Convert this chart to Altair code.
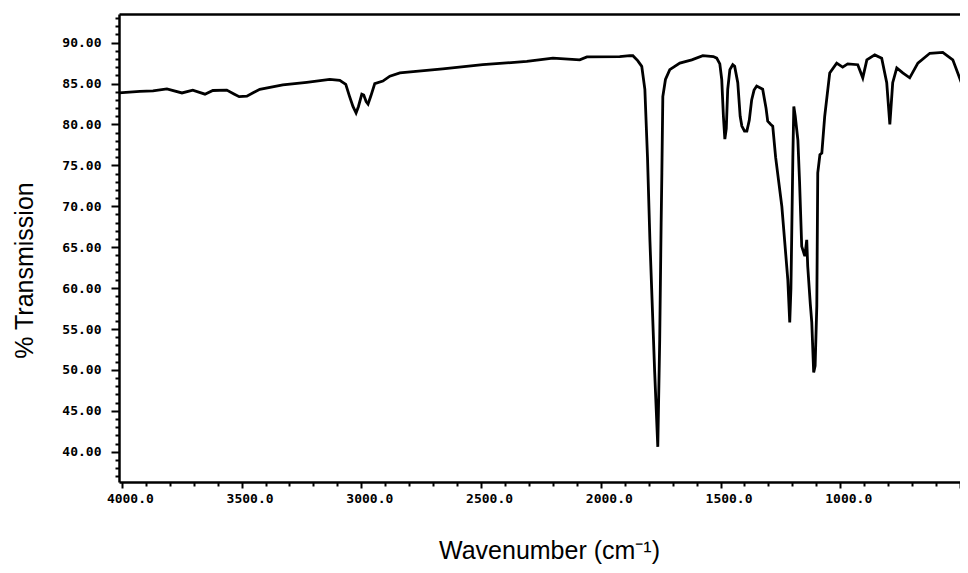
import altair as alt
import pandas as pd

# IR spectrum (wavenumber in cm-1, % transmission)
wavenumber = [
    4015, 3925, 3870, 3812, 3749, 3704, 3653, 3620, 3562, 3530, 3510, 3478, 3450, 3424,
    3328, 3228, 3132, 3090, 3065, 3050, 3035, 3022, 3012, 2998, 2990, 2980, 2972, 2960,
    2944, 2910, 2881, 2839, 2806, 2660, 2493, 2309, 2200, 2088, 2058, 1921, 1879, 1866,
    1846, 1829, 1816, 1805, 1795, 1775, 1762, 1754, 1748, 1745, 1741, 1730, 1712, 1670,
    1620, 1574, 1530, 1516, 1503, 1495, 1488, 1482, 1476, 1470, 1461, 1449, 1441, 1428,
    1418, 1411, 1400, 1390, 1380, 1370, 1360, 1349, 1324, 1310, 1303, 1290, 1282, 1270,
    1244, 1219, 1211, 1206, 1203, 1198, 1194, 1188, 1177, 1170, 1161, 1148, 1140, 1136,
    1125, 1119, 1111, 1105, 1098, 1094, 1085, 1077, 1065, 1044, 1015, 990, 969, 927,
    906, 889, 856, 827, 806, 793, 781, 764, 739, 710, 676, 626, 572, 530, 489, 468,
]
transmission = [
    83.85, 84.05, 84.1, 84.35, 83.85, 84.2, 83.7, 84.15, 84.2, 83.7, 83.4, 83.45, 83.9, 84.3,
    84.85, 85.15, 85.5, 85.4, 84.9, 83.5, 82.2, 81.4, 82.2, 83.7, 83.6, 82.8, 82.5, 83.5,
    85.0, 85.3, 85.9, 86.3, 86.4, 86.8, 87.3, 87.7, 88.1, 87.9, 88.25, 88.3, 88.4, 88.4,
    87.8, 87.1, 84.3, 76.0, 65.9, 49.7, 40.6, 53.7, 68.0, 74.1, 83.4, 85.5, 86.7, 87.5,
    87.9, 88.4, 88.3, 88.1, 87.4, 85.5, 81.0, 78.2, 79.5, 84.3, 86.7, 87.3, 87.1, 85.1,
    81.0, 79.8, 79.2, 79.2, 80.5, 83.0, 84.2, 84.7, 84.3, 82.0, 80.4, 80.0, 79.8, 76.0,
    70.0, 61.0, 55.8, 60.0, 65.9, 76.0, 82.2, 81.0, 78.1, 73.0, 65.1, 63.9, 65.9, 62.7,
    58.0, 55.8, 49.7, 50.5, 57.8, 74.1, 76.3, 76.5, 81.0, 86.3, 87.5, 87.0, 87.4, 87.3,
    85.7, 87.9, 88.5, 88.1, 85.1, 80.0, 85.1, 86.9, 86.3, 85.7, 87.5, 88.7, 88.8, 87.9, 84.7, 82.2,
]

x_ticks = list(range(4000, 499, -100))
y_ticks = list(range(37, 94))

df = pd.DataFrame({"wavenumber": wavenumber, "transmission": transmission})

x_scale = alt.Scale(domain=[4012, 500], nice=False, zero=False)
y_scale = alt.Scale(domain=[36.3, 93.5], nice=False, zero=False)

label_font = "DejaVu Sans Mono"

x_axis = alt.Axis(
    values=x_ticks,
    labelExpr="datum.value % 500 === 0 && datum.value > 500 ? format(datum.value, '.1f') : ''",
    labelFont=label_font, labelFontSize=13, labelFontWeight="bold", labelColor="black",
    labelOverlap=False, labelOffset=8, labelPadding=4, labelFlush=False,
    tickColor="black", tickWidth=2,
    tickSize={"condition": {"test": "datum.value % 500 === 0", "value": 6}, "value": 4},
    domainColor="black", domainWidth=2.5, grid=False,
    title="Wavenumber (cm⁻¹)", titleFont="Liberation Sans", titleFontSize=25,
    titleFontWeight="normal", titleColor="black",
    titleX=430, titleY=76, titleAlign="center", titleBaseline="alphabetic",
)

y_axis = alt.Axis(
    values=y_ticks,
    labelExpr="datum.value % 5 === 0 ? format(datum.value, '.2f') : ''",
    labelFont=label_font, labelFontSize=13, labelFontWeight="bold", labelColor="black",
    labelOverlap=False, labelPadding=10, labelFlush=False,
    tickColor="black", tickWidth=2,
    tickSize={"condition": {"test": "datum.value % 5 === 0", "value": 8}, "value": 4},
    domainColor="black", domainWidth=2.5, grid=False,
    title="% Transmission", titleFont="Liberation Sans", titleFontSize=25,
    titleFontWeight="normal", titleColor="black",
    titleAngle=270, titleX=-87, titleY=256, titleAlign="center", titleBaseline="alphabetic",
)

line = alt.Chart(df).mark_line(color="black", strokeWidth=2.8, clip=True).encode(
    x=alt.X("wavenumber:Q", scale=x_scale, axis=x_axis),
    y=alt.Y("transmission:Q", scale=y_scale, axis=y_axis),
)

frame = alt.Chart(df).mark_line(opacity=0).encode(
    x=alt.X("wavenumber:Q", scale=x_scale,
            axis=alt.Axis(orient="top", ticks=False, labels=False, title=None,
                          domainColor="black", domainWidth=2.5, grid=False)),
    y=alt.Y("transmission:Q", scale=y_scale, axis=None),
)

chart = (
    alt.layer(line, frame)
    .resolve_axis(x="independent", y="independent")
    .properties(
        width=841, height=468,
        padding={"left": 111, "top": 6, "right": 0, "bottom": 83},
        autosize=alt.AutoSizeParams(type="none"),
        background="white",
    )
    .configure_view(stroke=None)
)

chart.save("out.html", embed_options={"renderer": "svg", "actions": False})
